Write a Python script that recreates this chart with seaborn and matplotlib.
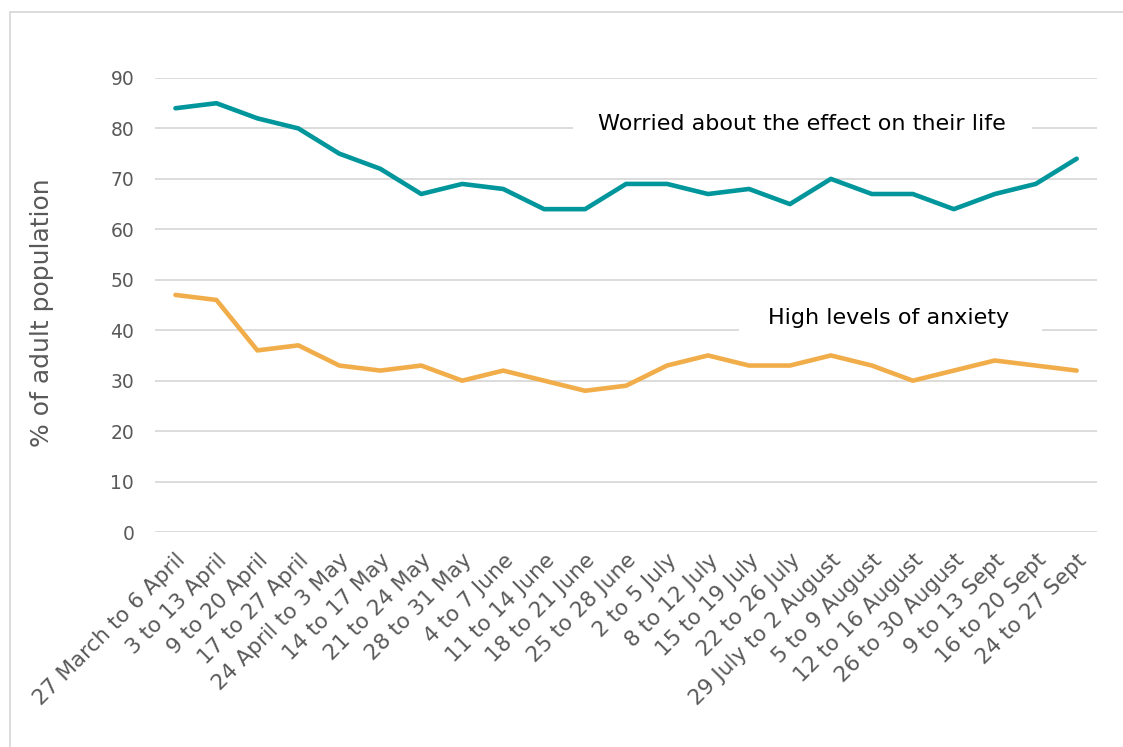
import matplotlib
matplotlib.use("Agg")
import matplotlib.pyplot as plt
import matplotlib.transforms as mtransforms
import seaborn as sns
import pandas as pd
from matplotlib.patches import Rectangle

periods = [
    "27 March to 6 April", "3 to 13 April", "9 to 20 April", "17 to 27 April",
    "24 April to 3 May", "14 to 17 May", "21 to 24 May", "28 to 31 May",
    "4 to 7 June", "11 to 14 June", "18 to 21 June", "25 to 28 June",
    "2 to 5 July", "8 to 12 July", "15 to 19 July", "22 to 26 July",
    "29 July to 2 August", "5 to 9 August", "12 to 16 August", "26 to 30 August",
    "9 to 13 Sept", "16 to 20 Sept", "24 to 27 Sept",
]
worried = [84, 85, 82, 80, 75, 72, 67, 69, 68, 64, 64, 69, 69, 67, 68, 65,
           70, 67, 67, 64, 67, 69, 74]
anxiety = [47, 46, 36, 37, 33, 32, 33, 30, 32, 30, 28, 29, 33, 35, 33, 33,
           35, 33, 30, 32, 34, 33, 32]
series_names = ["Worried about the effect on their life", "High levels of anxiety"]
y_ticks = [0, 10, 20, 30, 40, 50, 60, 70, 80, 90]

df = pd.DataFrame({
    "idx": list(range(len(periods))) * 2,
    "value": worried + anxiety,
    "series": [series_names[0]] * len(periods) + [series_names[1]] * len(periods),
})

sns.set_theme(style="white")
plt.rcParams["font.family"] = ["DejaVu Sans"]

fig = plt.figure(figsize=(11.23, 7.47), dpi=100)
ax = fig.add_axes([0.138, 0.2878, 0.839, 0.6078])

palette = {series_names[0]: "#00969B", series_names[1]: "#F2AD4B"}
sns.lineplot(data=df, x="idx", y="value", hue="series", palette=palette,
             linewidth=3.3, ax=ax, legend=False, zorder=3)
for line in ax.lines:
    line.set_solid_capstyle("round")
    line.set_clip_on(False)

ax.set_xlim(-0.5, len(periods) - 0.5)
ax.set_ylim(0, 90)
ax.set_yticks(y_ticks)
ax.set_xticks(range(len(periods)))
ax.set_xticklabels(periods, rotation=45, ha="right", rotation_mode="anchor",
                   fontsize=15.5, color="#595959")
shift = mtransforms.ScaledTranslation(-10 / 100, 0, fig.dpi_scale_trans)
for lbl in ax.get_xticklabels():
    lbl.set_transform(lbl.get_transform() + shift)
ax.tick_params(axis="y", labelsize=13.5, labelcolor="#595959", pad=15, length=0)
ax.tick_params(axis="x", length=0, pad=13)
ax.grid(axis="y", color="#D9D9D9", linewidth=1.3)
ax.set_axisbelow(True)
for s in ax.spines.values():
    s.set_visible(False)
ax.set_xlabel("")
ax.set_ylabel("% of adult population", fontsize=18, color="#595959")
ax.yaxis.set_label_coords(-0.107, 0.482)

# White panels behind the series labels hide the gridlines there
ax.add_patch(Rectangle((9.7, 77.0), 11.2, 7.5, facecolor="white",
                       edgecolor="none", zorder=2))
ax.add_patch(Rectangle((13.75, 38.5), 7.4, 7.5, facecolor="white",
                       edgecolor="none", zorder=2))
ax.text(15.3, 80.8, series_names[0], fontsize=16, color="#000000", ha="center",
        va="center", zorder=4)
ax.text(17.4, 42.4, series_names[1], fontsize=16, color="#000000", ha="center",
        va="center", zorder=4)

# Outer chart frame
fig.patches.append(Rectangle((10 / 1123, -0.01), 1.1, 1 - 12 / 747 + 0.01,
                             transform=fig.transFigure, fill=False,
                             edgecolor="#D9D9D9", linewidth=1.3))

fig.savefig("out.png", dpi=100, facecolor="white")
